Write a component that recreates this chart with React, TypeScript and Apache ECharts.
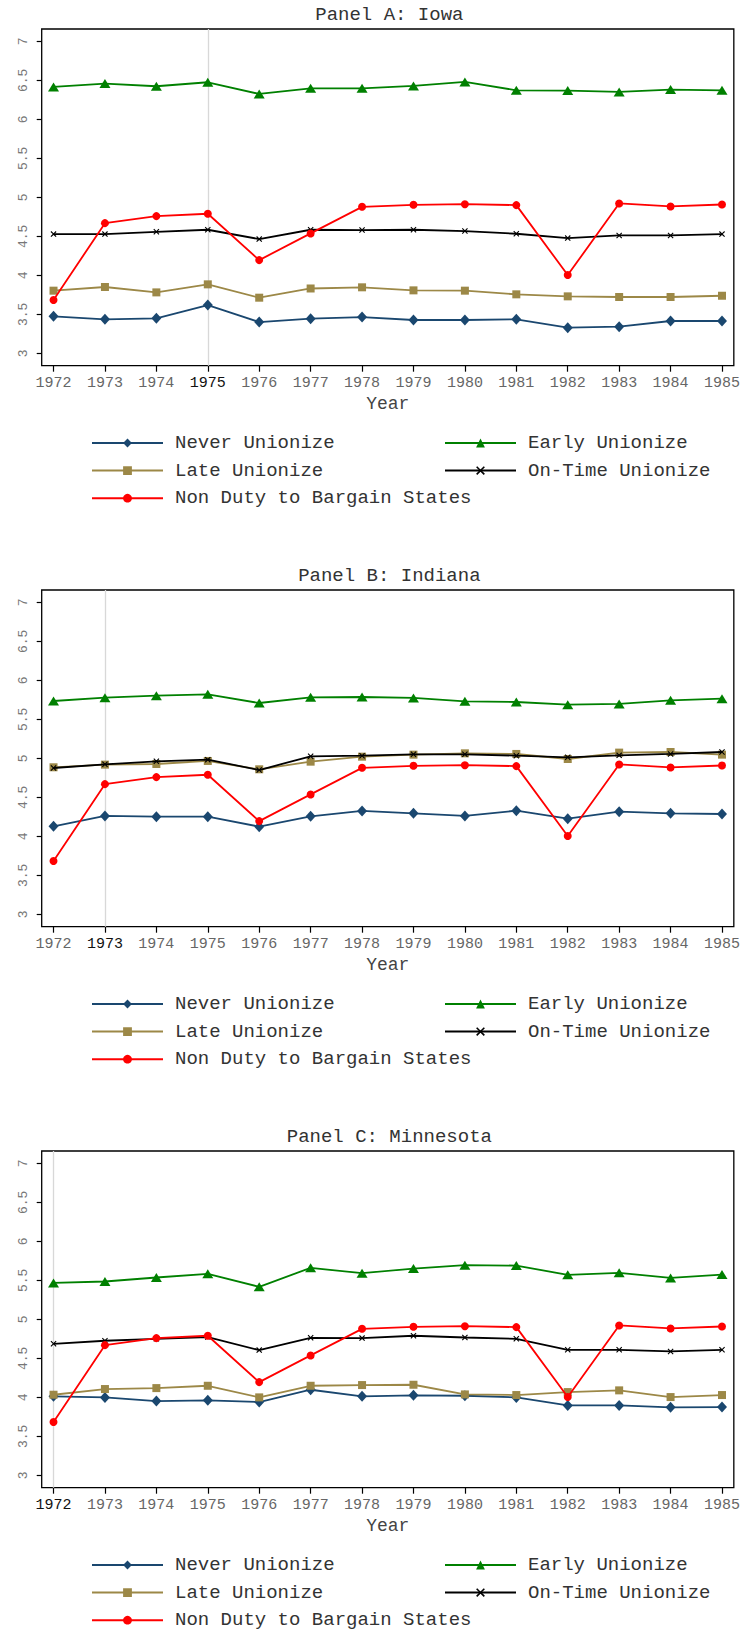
import React, { useEffect, useRef } from "react";
import * as echarts from "echarts";

// ---------------- data ----------------
const years = [1972, 1973, 1974, 1975, 1976, 1977, 1978, 1979, 1980, 1981, 1982, 1983, 1984, 1985];
const yTickValues = [3, 3.5, 4, 4.5, 5, 5.5, 6, 6.5, 7];
const panelTitles = ["Panel A: Iowa", "Panel B: Indiana", "Panel C: Minnesota"];
const markedYears = [1975, 1973, 1972];
const seriesNames = [
  "Never Unionize",
  "Early Unionize",
  "Late Unionize",
  "On-Time Unionize",
  "Non Duty to Bargain States",
];

// comparison group (same in all panels)
const nonDuty = [3.683, 4.669, 4.759, 4.789, 4.195, 4.537, 4.878, 4.904, 4.912, 4.9, 4.003, 4.921, 4.883, 4.908];

// Panel A: Iowa
const iowaNever = [3.474, 3.436, 3.448, 3.619, 3.401, 3.444, 3.465, 3.427, 3.427, 3.436, 3.329, 3.342, 3.414, 3.414];
const iowaEarly = [6.415, 6.458, 6.424, 6.475, 6.325, 6.398, 6.398, 6.428, 6.479, 6.372, 6.368, 6.351, 6.381, 6.372];
const iowaLate = [3.803, 3.85, 3.781, 3.884, 3.713, 3.831, 3.846, 3.807, 3.803, 3.756, 3.73, 3.722, 3.722, 3.738];
const iowaOnTime = [4.528, 4.528, 4.558, 4.584, 4.464, 4.584, 4.58, 4.584, 4.567, 4.533, 4.477, 4.511, 4.511, 4.528];

// Panel B: Indiana
const indianaNever = [4.128, 4.261, 4.252, 4.252, 4.124, 4.256, 4.325, 4.295, 4.261, 4.329, 4.226, 4.316, 4.295, 4.286];
const indianaEarly = [5.735, 5.778, 5.803, 5.821, 5.709, 5.782, 5.786, 5.774, 5.731, 5.722, 5.688, 5.697, 5.744, 5.765];
const indianaLate = [4.885, 4.919, 4.927, 4.966, 4.859, 4.957, 5.021, 5.047, 5.064, 5.056, 4.991, 5.073, 5.081, 5.047];
const indianaOnTime = [4.876, 4.923, 4.962, 4.983, 4.85, 5.026, 5.034, 5.051, 5.051, 5.034, 5.013, 5.038, 5.056, 5.081];

// Panel C: Minnesota
const minnNever = [4.012, 3.999, 3.952, 3.961, 3.939, 4.097, 4.012, 4.025, 4.02, 3.999, 3.896, 3.896, 3.871, 3.875];
const minnEarly = [5.467, 5.485, 5.536, 5.583, 5.416, 5.66, 5.591, 5.651, 5.694, 5.689, 5.57, 5.596, 5.531, 5.574];
const minnLate = [4.033, 4.106, 4.118, 4.148, 3.999, 4.148, 4.157, 4.161, 4.037, 4.029, 4.067, 4.089, 4.003, 4.029];
const minnOnTime = [4.686, 4.725, 4.75, 4.772, 4.605, 4.763, 4.759, 4.789, 4.767, 4.75, 4.609, 4.609, 4.588, 4.609];

const panels = [
  [iowaNever, iowaEarly, iowaLate, iowaOnTime, nonDuty],
  [indianaNever, indianaEarly, indianaLate, indianaOnTime, nonDuty],
  [minnNever, minnEarly, minnLate, minnOnTime, nonDuty],
];

// ---------------- styles ----------------
const FONT = "'Liberation Mono', 'DejaVu Sans Mono', monospace";
const X_SYMBOL = "path://M0,1.3 L1.3,0 L5,3.7 L8.7,0 L10,1.3 L6.3,5 L10,8.7 L8.7,10 L5,6.3 L1.3,10 L0,8.7 L3.7,5 Z";
const seriesStyles = [
  { color: "#1a476f", symbol: "diamond", size: [10, 11] },
  { color: "#008000", symbol: "triangle", size: [11, 9] },
  { color: "#9c8847", symbol: "rect", size: 8 },
  { color: "#000000", symbol: X_SYMBOL, size: 6 },
  { color: "#ff0000", symbol: "circle", size: 8 },
];

const PANEL_TOPS = [29, 590, 1151];
const PANEL_H = 336.7;
const GRID_LEFT = 41.7;
const GRID_RIGHT = 6;

export default function App() {
  const ref = useRef<HTMLDivElement>(null);

  useEffect(() => {
    document.body.style.margin = "0";
    if (!ref.current) return;
    const chart = echarts.init(ref.current, null, { renderer: "svg" });

    const grids: any[] = [];
    const xAxes: any[] = [];
    const yAxes: any[] = [];
    const series: any[] = [];
    const titles: any[] = [];
    const legends: any[] = [];

    PANEL_TOPS.forEach((top, p) => {
      const marked = markedYears[p];
      grids.push({
        left: GRID_LEFT,
        right: GRID_RIGHT,
        top,
        height: PANEL_H,
        show: true,
        borderColor: "#000",
        borderWidth: 1.3,
        backgroundColor: "#fff",
      });
      xAxes.push({
        type: "value",
        gridIndex: p,
        min: 1971.77,
        max: 1985.23,
        axisLine: { show: false },
        splitLine: { show: false },
        axisTick: {
          show: true,
          length: 6,
          customValues: years,
          lineStyle: { color: "#000", width: 1.2 },
        },
        axisLabel: {
          customValues: years,
          margin: 10,
          fontFamily: FONT,
          fontSize: 15,
          formatter: (v: number) => String(v),
          color: (v: any) => (Number(v) === marked ? "#111" : "#666"),
        },
        name: "Year",
        nameLocation: "middle",
        nameGap: 29,
        nameTextStyle: { fontFamily: FONT, fontSize: 18, color: "#444" },
      });
      yAxes.push({
        type: "value",
        gridIndex: p,
        min: 2.841,
        max: 7.158,
        axisLine: { show: false },
        splitLine: { show: false },
        axisTick: {
          show: true,
          length: 5,
          customValues: yTickValues,
          lineStyle: { color: "#000", width: 1.2 },
        },
        axisLabel: {
          customValues: yTickValues,
          rotate: 90,
          margin: 12,
          fontFamily: FONT,
          fontSize: 13,
          color: "#777",
          formatter: (v: number) => String(v),
        },
      });
      titles.push({
        text: panelTitles[p],
        left: GRID_LEFT + (743 - GRID_LEFT - GRID_RIGHT) / 2,
        textAlign: "center",
        top: top - 24,
        padding: 0,
        textStyle: { fontFamily: FONT, fontSize: 19, fontWeight: "normal", color: "#333" },
      });
      const legendBase = {
        orient: "vertical",
        top: top + 404,
        height: 90,
        padding: 0,
        itemWidth: 71,
        itemHeight: 11,
        itemGap: 7.6,
        selectedMode: false,
        textStyle: {
          fontFamily: FONT,
          fontSize: 19,
          color: "#333",
          lineHeight: 20,
          padding: [0, 0, 0, 7],
        },
      };
      legends.push({ ...legendBase, left: 91, data: [seriesNames[0], seriesNames[2], seriesNames[4]] });
      legends.push({ ...legendBase, left: 444, data: [seriesNames[1], seriesNames[3]] });

      panels[p].forEach((vals, s) => {
        const st = seriesStyles[s];
        const item: any = {
          type: "line",
          name: seriesNames[s],
          xAxisIndex: p,
          yAxisIndex: p,
          data: years.map((y, k) => [y, vals[k]]),
          symbol: st.symbol,
          symbolSize: st.size,
          lineStyle: { color: st.color, width: 1.8 },
          itemStyle: { color: st.color },
          emphasis: { disabled: true },
          z: 3 + s,
        };
        if (s === 0) {
          item.markLine = {
            silent: true,
            symbol: ["none", "none"],
            label: { show: false },
            lineStyle: { color: "#d8d8d8", width: 1.3, type: "solid" },
            data: [{ xAxis: marked }],
            z: 1,
          };
        }
        series.push(item);
      });
    });

    chart.setOption({
      animation: false,
      backgroundColor: "#fff",
      title: titles,
      legend: legends,
      grid: grids,
      xAxis: xAxes,
      yAxis: yAxes,
      series,
    });

    return () => chart.dispose();
  }, []);

  return <div ref={ref} style={{ width: 743, height: 1632 }} />;
}
